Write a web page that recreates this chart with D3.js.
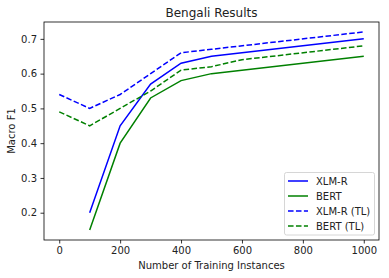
<!DOCTYPE html>
<html><head><meta charset="utf-8">
<script src="https://cdn.jsdelivr.net/npm/d3@7"></script>
<style>body{margin:0;background:#fff}svg{display:block}text{font-family:"DejaVu Sans",sans-serif;fill:#222}</style>
</head><body><svg id="c" width="389" height="278"></svg>
<script>
const title = "Bengali Results";
const xLabel = "Number of Training Instances";
const yLabel = "Macro F1";
const xTicks = [0, 200, 400, 600, 800, 1000];
const yTicks = [0.2, 0.3, 0.4, 0.5, 0.6, 0.7];
const seriesNames = ["XLM-R", "BERT", "XLM-R (TL)", "BERT (TL)"];
const seriesColors = ["#0000ff", "#008000", "#0000ff", "#008000"];
const seriesDashed = [false, false, true, true];
const xlmrX = [100, 200, 300, 400, 500, 1000];
const xlmrY = [0.20, 0.45, 0.57, 0.63, 0.65, 0.70];
const bertX = [100, 200, 300, 400, 500, 1000];
const bertY = [0.15, 0.40, 0.53, 0.58, 0.60, 0.65];
const xlmrTlX = [0, 100, 200, 300, 400, 500, 1000];
const xlmrTlY = [0.54, 0.50, 0.54, 0.60, 0.66, 0.67, 0.72];
const bertTlX = [0, 100, 200, 300, 400, 500, 600, 1000];
const bertTlY = [0.49, 0.45, 0.50, 0.55, 0.61, 0.62, 0.64, 0.68];

const seriesX = [xlmrX, bertX, xlmrTlX, bertTlX];
const seriesY = [xlmrY, bertY, xlmrTlY, bertTlY];

const svg = d3.select("#c");
const L = 44, R = 379, T = 22, B = 240;
const x = d3.scaleLinear().domain([-50, 1050]).range([L, R]);
const y = d3.scaleLinear().domain([0.1215, 0.7485]).range([B, T]);

const line = d3.line().x(d => x(d[0])).y(d => y(d[1]));
seriesNames.forEach((n, i) => {
  const pts = seriesX[i].map((v, j) => [v, seriesY[i][j]]);
  svg.append("path").attr("d", line(pts)).attr("fill", "none")
    .attr("stroke", seriesColors[i]).attr("stroke-width", 1.5)
    .attr("stroke-dasharray", seriesDashed[i] ? "5.55,2.4" : null);
});

const xa = svg.append("g").attr("transform", `translate(0,${B})`)
  .call(d3.axisBottom(x).tickValues(xTicks).tickSize(3.5).tickPadding(3.5).tickFormat(d3.format("d")));
const ya = svg.append("g").attr("transform", `translate(${L},0)`)
  .call(d3.axisLeft(y).tickValues(yTicks).tickSize(3.5).tickPadding(3.5).tickFormat(d3.format(".1f")));
[xa, ya].forEach(a => {
  a.select(".domain").remove();
  a.selectAll("line").attr("stroke", "#000").attr("stroke-width", 0.8);
  a.selectAll("text").attr("font-size", 10).attr("fill", "#222").style("font-family", "DejaVu Sans");
});

svg.append("rect").attr("x", L).attr("y", T).attr("width", R - L).attr("height", B - T)
  .attr("fill", "none").attr("stroke", "#000").attr("stroke-width", 0.8);

svg.append("text").attr("x", (L + R) / 2).attr("y", 17).attr("text-anchor", "middle")
  .attr("font-size", 12).text(title);
svg.append("text").attr("x", (L + R) / 2).attr("y", 269).attr("text-anchor", "middle")
  .attr("font-size", 10).text(xLabel);
svg.append("text").attr("transform", `translate(15,${(T + B) / 2}) rotate(-90)`)
  .attr("text-anchor", "middle").attr("font-size", 10).text(yLabel);

const lg = svg.append("g");
lg.append("rect").attr("x", 284.5).attr("y", 172.5).attr("width", 90).attr("height", 62.5).attr("rx", 2)
  .attr("fill", "#fff").attr("fill-opacity", 0.8).attr("stroke", "#ccc").attr("stroke-width", 0.8);
seriesNames.forEach((n, i) => {
  const yy = 181 + i * 15;
  lg.append("line").attr("x1", 288).attr("x2", 308).attr("y1", yy).attr("y2", yy)
    .attr("stroke", seriesColors[i]).attr("stroke-width", 1.5)
    .attr("stroke-dasharray", seriesDashed[i] ? "5.55,2.4" : null);
  lg.append("text").attr("x", 316).attr("y", yy + 3.5).attr("font-size", 10).text(n);
});
</script></body></html>
